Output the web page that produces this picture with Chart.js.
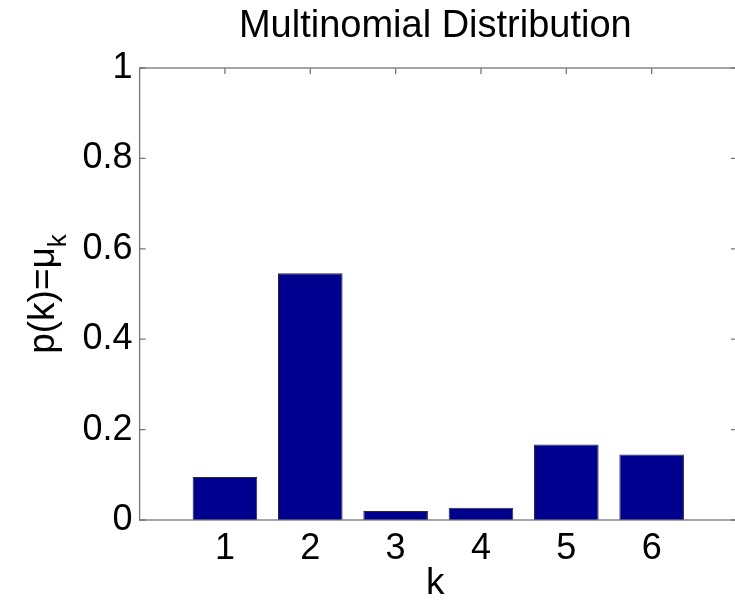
<!DOCTYPE html>
<html>
<head>
<meta charset="utf-8">
<title>Multinomial Distribution</title>
<script src="https://cdn.jsdelivr.net/npm/chart.js@4/dist/chart.umd.min.js"></script>
<style>
  html, body { margin: 0; padding: 0; background: #ffffff; overflow: hidden; }
  #wrap { width: 740px; height: 602px; }
</style>
</head>
<body>
<div id="wrap"><canvas id="chart" width="740" height="602"></canvas></div>
<script>
// Outcomes k and their probabilities mu_k
const categories = [1, 2, 3, 4, 5, 6];
const probabilities = [0.095, 0.546, 0.020, 0.027, 0.167, 0.145];
const yTickValues = [0, 0.2, 0.4, 0.6, 0.8, 1];
const yTickLabels = ['0', '0.2', '0.4', '0.6', '0.8', '1'];

const titleText = 'Multinomial Distribution';
const xLabelText = 'k';
const yLabelMain = 'p(k)=\u03bc';
const yLabelSub = 'k';

const FONT = '"Liberation Sans", Arial, Helvetica, sans-serif';
const AXIS_COLOR = '#767676';
const TICK_LEN = 6;

// Inward tick marks on all four sides, drawn underneath the bars
const tickPlugin = {
  id: 'innerTicks',
  beforeDatasetsDraw(chart) {
    const { ctx, chartArea: a, scales } = chart;
    const xs = scales.x, ys = scales.y;
    ctx.save();
    ctx.strokeStyle = AXIS_COLOR;
    ctx.lineWidth = 1.3;
    ctx.beginPath();
    yTickValues.forEach(v => {
      const y = ys.getPixelForValue(v);
      ctx.moveTo(a.left, y); ctx.lineTo(a.left + TICK_LEN, y);
      ctx.moveTo(a.right, y); ctx.lineTo(a.right - TICK_LEN, y);
    });
    categories.forEach(c => {
      const x = xs.getPixelForValue(c);
      ctx.moveTo(x, a.bottom); ctx.lineTo(x, a.bottom - TICK_LEN);
      ctx.moveTo(x, a.top); ctx.lineTo(x, a.top + TICK_LEN);
    });
    ctx.stroke();
    ctx.restore();
  }
};

// Box around the axes, title and axis labels
const framePlugin = {
  id: 'frame',
  afterDraw(chart) {
    const { ctx, chartArea: a } = chart;
    ctx.save();
    ctx.strokeStyle = AXIS_COLOR;
    ctx.lineWidth = 1.3;
    ctx.strokeRect(a.left, a.top, a.right - a.left, a.bottom - a.top);

    ctx.fillStyle = '#000000';
    const cx = (a.left + a.right) / 2 - 3;

    // title
    ctx.font = '38px ' + FONT;
    ctx.textAlign = 'center';
    ctx.textBaseline = 'alphabetic';
    ctx.fillText(titleText, cx, 37);

    // x axis label
    ctx.font = '37px ' + FONT;
    ctx.fillText(xLabelText, cx, 594);

    // y axis label with subscript, rotated
    const cy = (a.top + a.bottom) / 2;
    ctx.translate(54, cy);
    ctx.rotate(-Math.PI / 2);
    ctx.font = '37px ' + FONT;
    const wMain = ctx.measureText(yLabelMain).width;
    ctx.font = '26px ' + FONT;
    const wSub = ctx.measureText(yLabelSub).width;
    const start = -(wMain + wSub) / 2;
    ctx.textAlign = 'left';
    ctx.font = '37px ' + FONT;
    ctx.fillText(yLabelMain, start, 0);
    ctx.font = '26px ' + FONT;
    ctx.fillText(yLabelSub, start + wMain, 12);
    ctx.restore();
  }
};

new Chart(document.getElementById('chart'), {
  type: 'bar',
  data: {
    datasets: [{
      data: categories.map((c, i) => ({ x: c, y: probabilities[i] })),
      backgroundColor: '#00008F',
      borderColor: '#2a2a2a',
      borderWidth: 1,
      barPercentage: 0.757,
      categoryPercentage: 1
    }]
  },
  options: {
    responsive: false,
    animation: false,
    devicePixelRatio: 1,
    layout: { padding: { top: 68, right: 3, left: 0, bottom: 0 } },
    plugins: { legend: { display: false }, title: { display: false }, tooltip: { enabled: false } },
    scales: {
      x: {
        type: 'linear',
        min: 0,
        max: 7,
        offset: false,
        grid: { display: false, drawTicks: false, offset: false },
        border: { display: false },
        afterFit(scale) { scale.height = 82; scale.paddingLeft = 0; scale.paddingRight = 0; },
        afterBuildTicks(scale) { scale.ticks = categories.map(v => ({ value: v })); },
        ticks: {
          autoSkip: false,
          maxRotation: 0,
          padding: 7,
          color: '#000000',
          font: { family: FONT, size: 36 },
          callback: v => String(v)
        }
      },
      y: {
        min: 0,
        max: 1,
        grid: { display: false, drawTicks: false },
        border: { display: false },
        afterFit(scale) { scale.width = 139.6; },
        afterBuildTicks(scale) { scale.ticks = yTickValues.map(v => ({ value: v })); },
        ticks: {
          padding: 7,
          color: '#000000',
          font: { family: FONT, size: 36 },
          callback: (v, i) => yTickLabels[i]
        }
      }
    }
  },
  plugins: [tickPlugin, framePlugin]
});
</script>
</body>
</html>
